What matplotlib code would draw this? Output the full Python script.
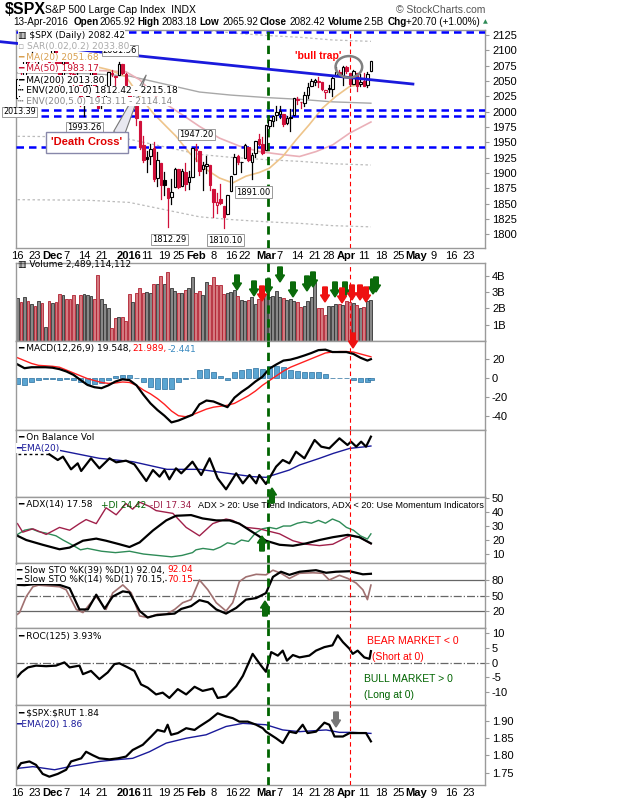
import numpy as np
import matplotlib
matplotlib.use('Agg')
import matplotlib.pyplot as plt
from matplotlib.patches import Rectangle, Polygon, Ellipse

plt.rcParams['axes.unicode_minus'] = False
plt.rcParams['text.parse_math'] = False

# ---------------- DATA ----------------
# trading-day index 0 = 16-Nov-2015 ... 101 = 13-Apr-2016
opens = [2022.1,2053.7,2051.0,2083.7,2082.8,2089.4,2084.4,2089.3,2088.8,2090.9,2082.9,2101.7,2080.7,2051.2,2090.4,2073.4,2061.2,2047.9,2047.3,2013.4,
         2025.6,2046.5,2073.8,2040.8,2010.3,2023.2,2042.2,2063.5,2057.8,2060.5,2077.3,2060.6,2038.2,2013.8,2011.7,1985.3,1945.9,1926.1,1927.8,1940.3,
         1891.7,1916.7,1888.7,1876.2,1861.5,1877.4,1906.3,1878.8,1902.5,1885.2,1894.0,1936.9,1935.3,1907.1,1911.7,1913.1,1873.3,1848.5,1857.1,1847.0,
         1833.4,1871.4,1898.8,1927.6,1917.8,1924.4,1942.8,1917.6,1931.9,1954.9,1947.1,1937.1,1976.6,1985.6,1994.0,1996.1,1996.9,1981.4,1991.0,1994.7,
         2019.3,2015.3,2014.2,2026.9,2041.2,2048.6,2048.6,2048.6,2032.5,2037.9,2036.9,2058.3,2063.8,2056.6,2073.2,2062.5,2045.6,2063.0,2045.5,2050.2,
         2043.7,2065.9]
highs = [2053.2,2066.7,2084.0,2086.7,2097.1,2095.6,2094.1,2093.0,2093.3,2093.8,2103.4,2104.3,2085.0,2093.8,2090.4,2073.8,2080.3,2067.7,2047.3,2022.9,
         2053.9,2076.7,2076.4,2040.8,2022.9,2042.7,2064.7,2067.4,2057.8,2081.6,2077.3,2062.5,2038.2,2021.9,2011.7,1985.3,1960.4,1935.7,1947.4,1950.3,
         1934.5,1916.7,1901.4,1876.2,1889.9,1908.9,1906.3,1906.3,1916.9,1902.9,1940.2,1947.2,1935.3,1918.0,1927.4,1913.1,1873.3,1868.3,1881.6,1847.0,
         1864.8,1895.8,1930.7,1930.0,1918.8,1946.7,1942.8,1932.1,1951.8,1962.9,1958.3,1978.4,1986.5,1993.7,2009.1,2008.8,1996.9,1992.7,2005.1,2022.4,
         2024.6,2015.9,2032.0,2046.2,2052.4,2053.9,2056.6,2048.6,2036.0,2042.7,2056.0,2072.2,2067.9,2075.1,2074.0,2062.5,2067.3,2063.0,2060.6,2062.9,
         2065.1,2083.2]
lows = [2019.4,2045.9,2051.0,2078.8,2082.5,2081.4,2070.3,2086.3,2084.1,2080.4,2082.9,2077.1,2042.4,2051.2,2066.8,2052.3,2036.5,2045.2,2008.8,1993.3,
        2025.6,2042.4,2041.7,2005.3,2005.9,2020.5,2042.2,2058.7,2044.2,2060.5,2061.9,2043.6,1989.7,2004.2,1979.1,1938.8,1918.5,1901.1,1914.4,1886.3,
        1878.9,1857.8,1864.6,1812.3,1848.9,1877.4,1875.9,1878.8,1872.7,1873.6,1894.0,1920.0,1897.3,1872.6,1900.5,1872.7,1828.5,1834.9,1850.3,1810.1,
        1833.4,1871.4,1898.8,1915.1,1902.2,1924.4,1919.4,1891.0,1925.4,1945.8,1931.8,1937.1,1973.0,1977.4,1986.8,1989.3,1977.4,1979.8,1969.2,1994.7,
        2012.2,2005.2,2010.0,2022.2,2041.2,2043.1,2040.6,2034.9,2022.5,2031.9,2026.3,2058.3,2057.5,2044.0,2062.6,2042.6,2045.6,2033.8,2041.7,2041.9,
        2039.7,2065.9]
closes = [2053.2,2050.4,2083.6,2081.2,2089.2,2086.6,2089.1,2088.9,2090.1,2080.4,2102.6,2079.5,2049.6,2091.7,2077.1,2063.6,2047.6,2052.2,2012.4,2021.9,
          2043.4,2073.1,2041.9,2005.6,2021.2,2039.0,2064.3,2061.0,2056.5,2078.4,2063.4,2043.9,2012.7,2016.7,1990.3,1943.1,1922.0,1923.7,1938.7,1890.3,
          1921.8,1880.3,1881.3,1859.3,1869.0,1906.9,1877.1,1903.6,1882.9,1893.4,1940.2,1939.4,1903.0,1912.5,1915.5,1880.1,1853.4,1852.2,1851.9,1829.1,
          1864.8,1895.6,1926.8,1917.8,1917.8,1945.5,1921.3,1929.8,1951.7,1948.1,1932.2,1978.4,1986.5,1993.4,2000.0,2001.8,1979.3,1989.3,1989.6,2022.2,
          2019.6,2015.9,2027.2,2040.6,2049.6,2051.6,2049.8,2036.7,2035.9,2037.1,2055.0,2064.0,2059.7,2072.8,2066.1,2045.2,2066.7,2041.9,2047.6,2042.0,
          2061.7,2082.4]
volume_b = [2.65,2.40,2.72,2.45,2.30,2.18,2.45,2.34,0.85,2.47,2.34,2.40,2.86,2.80,2.55,2.58,2.80,2.28,2.80,2.90,2.84,2.76,2.55,4.05,2.55,2.25,2.02,0.80,
            1.40,1.45,1.50,1.25,
            2.90,2.38,2.92,3.27,2.92,3.00,2.96,3.50,3.48,4.00,3.50,4.25,3.25,3.08,2.92,2.96,3.12,3.27,3.90,2.92,3.06,2.82,3.60,3.43,3.90,3.43,3.43,2.88,
            2.92,3.02,3.12,2.78,2.51,2.47,2.51,2.68,2.29,2.55,2.66,2.86,2.70,2.76,3.07,2.68,2.62,2.51,2.55,2.45,2.38,2.07,2.14,2.47,2.72,3.60,2.00,2.02,
            1.62,2.18,2.18,2.27,2.27,2.20,2.48,2.38,2.34,2.24,2.00,2.10,2.45,2.49]

ma20_day = [18.7,23.4,26.3,31,34.9,38.7,42.5,45.3,49.1,53.9,57.7,61.5,65.3,69.1,72,75.8,79.6,83.4,87.2,91,94.9,97.7,101]
ma20_val = [2071,2072,2068,2057,2025,1998,1976,1960,1933,1906,1892,1884,1895,1901,1908,1927,1954,1979,2006,2025,2041,2044,2051.7]
ma50_day = [20.6,23.4,31,34.9,40.6,46.3,52,57.7,63.4,69.1,75.8,80.6,85.3,90.1,94.9,101]
ma50_val = [2068,2067,2065,2052,2019,1998,1976,1957,1944,1935,1930,1927,1935,1946,1965,1983.2]
ma200_day = [0,20,32,42,52,61,71,81,90,101]
ma200_val = [2063,2062,2058,2045,2032,2027,2023,2020,2016,2013.8]

macd_day = [0,2,4,6,8,10,12,14,16,18,20,22,24,26,28,30,32,34,36,38,40,42,44,46,48,50,52,54,56,58,60,62,64,66,68,70,72,74,76,78,80,82,84,86,88,90,92,94,96,98,100,101]
macd_val = [14,10,11,11,11,10.5,9,6.5,3,-2.4,-7.6,-10,-11,-8,-4,-1.7,-2.5,-8,-18,-27,-34,-40,-47,-45,-42,-39,-28,-24,-25,-28,-31,-21,-15,-10,-4,1,9.6,14,18,19,21,23.4,26,29,29.5,27,27,27,25,21,18,19.5]
signal_val = [21,18,15,13,12.5,12,11,8,5,2,-1,-3,-5,-6,-5.5,-4.5,-5,-8,-13,-17,-22,-28,-35,-40,-41,-39,-36,-33,-31,-30,-29,-27,-23,-19,-14,-8,-3,2,7,11,14,17,20,23,26,27,27.5,27.5,27,25,23,22]

obv_day = [9.1,11.5,13,15.3,17.2,18.2,21,23.4,26.3,28.2,31,33.4,36.8,38.7,40.6,42,43.4,45.3,46.8,48.2,50,52.5,54.9,57.2,59.6,62.5,64.4,66.3,68.2,69.1,71,
           73.9,75.8,77.7,79.6,82,84.9,86.8,89.1,92,94.3,95.3,96.8,98.2,99.6,101]
obv_val = [147,130,140,102,120,97,135,105,135,123,128,117,67,100,80,100,72,105,90,105,125,85,135,75,42,90,60,85,60,85,58,
           110,130,120,155,135,190,170,165,195,175,185,170,185,170,200]
obvema_day = [11.5,23.4,32.9,42.7,52,56.8,61.5,67.2,71,77.7,80.6,86.3,90.3,95,99.6,101]
obvema_val = [160,135,125,102,102,95,88,80,78,100,115,135,150,165,170,172]

adx_day = [0,2.5,7.2,12,14.9,18.7,22.5,25.3,29.1,32,34.9,38.7,42.5,45.3,49.6,52.9,56.8,60.6,63.4,67.2,71,74.9,78.7,82.5,86.3,90.1,94.4,97.7,101]
adx_val = [23,20,16.6,13.4,14.6,19.5,21,19.5,17,15,18.3,26.8,34,37.3,37.8,35.4,34,34,31.7,25.6,19.5,16.6,15.9,17.6,20,22,23.7,22,17.6]
pdi_day = [0,2,4,6,8,11,13,16,18,20,24,28,32,36,40,44,47,50,51,53,56,58,60,62,64,66,68,70,72,74,76,78,80,82,84,86,88,90,92,94,96,98,100,101]
pdi_val = [24,27,28,26,25,23,20,16,13,14,12,11,12,10,9,8,9,11,13,14,13,15,18,17,20,19,25,28,29,28,30,30,32,33,32,34,32,35,33,29,27,23,20.7,24.4]
mdi_day = [0,1.5,4.4,8.2,12,14.9,17.7,19.6,22.5,25.3,28.2,31,32.9,34.9,37.7,39.6,44.4,48.2,52,55.8,59.6,61.5,65.3,69.1,71,74.9,78.7,82.5,86.3,90.1,94.9,97.7,101]
mdi_val = [31.7,25.6,28,24,29,27,31.7,34.6,31.7,43,38,46,42,47,44,41,39,29,23,31.7,35,34,29,28,26.8,24.4,19.5,17,16,17,23,22,17.3]

sto39_day = [0,2,5,8,12,14.9,17.7,20.1,22.5,24.9,27.2,30.1,32,34.9,37.2,39.6,42.5,44.9,46.8,49.6,52,54.4,56.8,59.6,62.5,65.3,68.2,71,73,75.3,77.7,80.6,85.3,88.2,91,94.9,98.7,101]
sto39_val = [70.5,70,72,72,70.5,64,23,23,51.6,24.4,48,58,56,20,7.4,11.8,13.7,15,24,29.5,41,37,23,15,26,42,45,54.7,86,96,90,96,99,94,96,97,91,92.04]
sto14_day = [0,0.6,2.5,4.4,6,12,13.9,16.8,18.7,20.6,22.5,25.3,27.2,30.1,32.5,34.9,37.2,40,42.5,44.9,47.2,49.6,52,54.4,56.8,59.6,61.5,63.4,65.3,68.2,71,73,75.3,77.7,80.6,84.4,87.2,89.1,92,94.4,96.8,98.7,100,101]
sto14_val = [13.7,17,48,67,70,67,61,23,17,33,48,23,55,70.5,55,10.5,7.4,13.7,13.7,23,36,42,80,61,36,20,36,77,86,91,90,99,93,83,93,94,93,80,89,83,74,61,42,70.15]

roc_day = [0,1.1,3,5.3,8.2,11,13.4,14.9,17.7,18.7,21,23.4,25.8,27.7,29.1,31.5,33.4,35.3,37.2,39.6,41.5,43.4,45.8,48.2,50.6,52.9,55.8,57.2,59.6,62.5,64.4,67.2,69.6,71,72.5,74.4,75.8,77,78.7,80.6,83.4,85.3,87.7,90,91.5,93,94.9,95.8,97.2,99.1,100.6,101]
roc_val = [-4.8,-3.3,-1.6,-1,-1.2,-1,0.1,-1.6,-1,-3.9,-2.8,-5.6,-3.3,-0.5,-0.2,-1.6,-2.8,-7.4,-8.5,-10.8,-10.2,-12,-9,-10.8,-8.2,-9.6,-8.8,-12,-11.5,-8,-4.5,3,-1,-3.1,3.6,2.4,4.1,0.7,2.6,1.8,2.4,4.1,5.3,5.9,9.3,7,4.7,3,4.1,1.8,1.3,3.93]

ratio_day = [0,1,3.4,5.3,7.2,9.1,11.5,13.9,15.3,18.2,19.6,21.5,23.4,26.3,28.7,31,32.9,35.8,38.2,40,42,42.9,43.9,45.8,48.2,50.6,52,54.9,57.2,59.6,61.5,63.4,65.8,68.2,70.1,71,73.9,75.8,77.7,79.6,81.5,82.9,85.3,87.7,89.1,90.6,93,94.9,97.2,99.6,101]
ratio_val = [1.762,1.777,1.782,1.772,1.746,1.738,1.746,1.758,1.782,1.791,1.810,1.800,1.791,1.788,1.791,1.796,1.815,1.830,1.854,1.873,1.868,1.888,1.859,1.864,1.878,1.873,1.883,1.902,1.921,1.912,1.907,1.897,1.897,1.888,1.878,1.868,1.849,1.835,1.868,1.864,1.888,1.864,1.868,1.894,1.888,1.854,1.854,1.864,1.864,1.864,1.84]
rema_day = [0,4.4,10.6,15.8,23.4,28.2,32.9,37.7,42.5,48.2,53.9,59.6,64.4,71,75.8,80.6,88.2,92,95.8,101]
rema_val = [1.762,1.767,1.758,1.769,1.782,1.787,1.791,1.810,1.835,1.849,1.859,1.883,1.892,1.888,1.873,1.868,1.873,1.866,1.866,1.863]

tick_days = [0,5,10,14,19,24,32,37,42,46,51,56,61,65,71,75,80,85,89,94,99,104,109,114,119,124,129]
tick_labels = ['16','23','Dec','7','14','21','2016','11','19','25','Feb','8','16','22','Mar','7','14','21','28','Apr','11','18','25','May','9','16','23']
price_ticks = [1800,1825,1850,1875,1900,1925,1950,1975,2000,2025,2050,2075,2100,2125]
price_levels = [2130,2003,1993,1942]
trend_day = [-5,113]
trend_val = [2114,2045]
peak_labels = [(29.3,2100,'2081.56'),(19.1,1974,'1993.26'),(51.2,1963,'1947.20'),(67.4,1869,'1891.00'),(43.4,1792,'1812.29'),(59.4,1791,'1810.10')]

# ---------------- LAYOUT ----------------
W, H = 620, 800
fig = plt.figure(figsize=(6.2, 8), dpi=100)
fig.patch.set_facecolor('white')
XL = (-0.43, 133.6)
GREEN_X = 71.7
RED_X = 94.9
TF = 'Liberation Sans'
LS = 6.5

def mk(top, bot, ylim):
    ax = fig.add_axes([16/W, 1-bot/H, 469/W, (bot-top)/H])
    ax.set_xlim(*XL); ax.set_ylim(*ylim)
    for s in ax.spines.values():
        s.set_color('#9a9a9a'); s.set_linewidth(1)
    ax.yaxis.tick_right()
    ax.tick_params(axis='y', labelsize=8, length=3, color='#9a9a9a', pad=2)
    ax.tick_params(axis='x', length=0, labelbottom=False)
    ax.set_xticks(tick_days)
    ax.axvline(GREEN_X, color='#006400', lw=2, ls=(0, (3, 2)), zorder=5)
    ax.axvline(RED_X, color='#ff0000', lw=0.8, ls=(0, (4, 3)), zorder=5)
    return ax

def yfont(ax):
    for t in ax.get_yticklabels():
        t.set_fontfamily(TF); t.set_fontsize(8)

def xlabels(ax):
    ax.tick_params(axis='x', labelbottom=True, pad=2)
    ax.set_xticklabels(tick_labels)
    for t in ax.get_xticklabels():
        t.set_fontfamily(TF); t.set_fontsize(8)
        if not t.get_text().isdigit() or t.get_text() == '2016':
            t.set_fontweight('bold')

def ftxt(x, y, s, color='black', size=LS, **kw):
    fig.text(x/W, 1-y/H, s, color=color, fontsize=size, va='center', ha=kw.pop('ha', 'left'), **kw)

def arrow(x, y_tip, up, color, w=9, h=15):
    s = -1 if up else 1
    pts = [(x, y_tip), (x-w/2, y_tip-s*7), (x-2.3, y_tip-s*7), (x-2.3, y_tip-s*h),
           (x+2.3, y_tip-s*h), (x+2.3, y_tip-s*7), (x+w/2, y_tip-s*7)]
    pts = [(a/W, 1-b/H) for a, b in pts]
    fig.add_artist(Polygon(pts, closed=True, transform=fig.transFigure, facecolor=color, edgecolor=color, zorder=20))

# header
fig.text(5/W, 1-10/H, '$SPX', fontsize=11.5, fontweight='bold', va='center', family=TF)
fig.text(45/W, 1-10/H, 'S&P 500 Large Cap Index  INDX', fontsize=7.5, va='center', family=TF)
fig.text(485/W, 1-10/H, '© StockCharts.com', fontsize=7.5, va='center', ha='right', color='#555555', family=TF)
for x, s, b in [(13,'13-Apr-2016',False),(74,'Open',True),(99,'2065.92',False),(137,'High',True),(161,'2083.18',False),
                (199,'Low',True),(222,'2065.92',False),(260,'Close',True),(289,'2082.42',False),(328,'Volume',True),
                (363,'2.5B',False),(388,'Chg',True),(406,'+20.70 (+1.00%)',False)]:
    fig.text(x/W, 1-22/H, s, fontsize=7.1, fontweight='bold' if b else 'normal', va='center', family=TF)
fig.text(483/W, 1-22/H, '▲', fontsize=4.5, color='#2e8b57', va='center')

# ---------------- PRICE ----------------
ax = mk(30, 248, (1778, 2133))
ax.set_yticks(price_ticks); yfont(ax)
xlabels(ax)
days = np.arange(len(closes))
for lv in price_levels:
    ax.axhline(lv, color='#0000ff', lw=1.8, ls=(0, (3, 2)), zorder=3)
env_u5 = [v*1.05 for v in ma200_val]; env_l5 = [v*0.95 for v in ma200_val]; env_l10 = [v*0.90 for v in ma200_val]
ax.plot(ma200_day, env_u5, color='#bbbbbb', lw=0.9, ls=(0, (2, 2)))
ax.plot(ma200_day, env_l5, color='#bbbbbb', lw=0.9, ls=(0, (2, 2)))
ax.plot(ma200_day, env_l10, color='#bbbbbb', lw=0.9, ls=(0, (2, 2)))
ax.plot(ma200_day, ma200_val, color='#a8a8a8', lw=1)
ax.plot(ma50_day, ma50_val, color='#eab0b8', lw=1.2)
ax.plot(ma20_day, ma20_val, color='#eec48a', lw=1.2)
for i in days:
    o, h_, l, c = opens[i], highs[i], lows[i], closes[i]
    up = i == 0 or c >= closes[i-1]
    col = 'black' if up else '#d0103a'
    ax.plot([i, i], [l, h_], color=col, lw=0.9, zorder=6)
    bottom, top = min(o, c), max(o, c)
    ax.add_patch(Rectangle((i-0.35, bottom), 0.7, max(top-bottom, 0.8),
                           facecolor='white' if c >= o else col, edgecolor=col, lw=0.8, zorder=7))
ax.plot(trend_day, trend_val, color='#1a1adc', lw=2, zorder=8, clip_on=False)
ax.add_patch(Ellipse((94.7, 2073), 7.6, 35, fill=False, edgecolor='#808080', lw=1.8, zorder=9))
ax.text(85.8, 2091, "'bull trap'", color='red', fontsize=7.5, fontweight='bold', ha='center', va='center', family=TF)
for d, v, s in peak_labels:
    ax.text(d, v, s, fontsize=6, ha='center', va='center', zorder=10,
            bbox=dict(boxstyle='square,pad=0.15', fc='white', ec='#999999', lw=0.7))
ax.add_patch(Polygon([(27.5, 1968), (36.8, 2060), (30.1, 1955)], closed=True, facecolor='#e8e8f0', edgecolor='#777777', lw=0.8, zorder=10))
ax.text(19.8, 1950, "'Death Cross'", color='#e00000', fontsize=8, fontweight='bold', ha='center', va='center', zorder=11, family=TF,
        bbox=dict(boxstyle='square,pad=0.5', fc='white', ec='#8888aa', lw=1))
fig.text(3/W, 1-112/H, '2013.39', fontsize=5.8, ha='left', va='center', zorder=12,
         bbox=dict(boxstyle='square,pad=0.1', fc='white', ec='#999999', lw=0.7))
leg = [('▥ $SPX (Daily) 2082.42', 'black', 35), ('▫ SAR(0.02,0.2) 2033.80', '#aaaaaa', 46), ('━ MA(20) 2051.68', '#d9a050', 57.5),
       ('━ MA(50) 1983.17', '#c8102e', 68.5), ('━ MA(200) 2013.80', 'black', 80), ('┅ ENV(200,10.0) 1812.42 - 2215.18', 'black', 91),
       ('┅ ENV(200,5.0) 1913.11 - 2114.14', '#888888', 101.5)]
for s, c, y in leg:
    fig.text(18/W, 1-y/H, s, color=c, fontsize=LS, va='center', zorder=15,
             bbox=dict(boxstyle='square,pad=0.05', fc='white', ec='none'))

# ---------------- VOLUME ----------------
axv = mk(263, 341, (0, 4.79))
axv.set_yticks([1, 2, 3, 4]); axv.set_yticklabels(['1B', '2B', '3B', '4B']); yfont(axv)
for i in days:
    down = i > 0 and closes[i] < closes[i-1]
    axv.bar(i, volume_b[i], width=0.85, color='#d47a80' if down else '#888888',
            edgecolor='#b02030' if down else '#333333', lw=0.6)
ftxt(18, 265, '▥ Volume 2,489,114,112')
for x, y in [(237,290),(254,296),(268,294),(280,282),(293,297),(307,291),(313,287),(335,297),(345,297),(373,294),(376,292)]:
    arrow(x, y, False, '#0a6a0a')
for x, y in [(262,301),(325,302),(342,303),(352,300),(360,300),(366,302),(353,348)]:
    arrow(x, y, False, '#ee1111')

# ---------------- MACD ----------------
axm = mk(341, 430, (-55, 38.6))
axm.set_yticks([-40, -20, 0, 20]); yfont(axm)
hist = [m - s for m, s in zip(macd_val, signal_val)]
axm.bar(macd_day, hist, width=1.6, color='#5aa5d2', edgecolor='#2a6e9e', lw=0.5)
axm.plot(macd_day, signal_val, color='#ff2020', lw=1)
axm.plot(macd_day, macd_val, color='black', lw=1.6)
ftxt(18, 349, '━ MACD(12,26,9) 19.548,')
ftxt(132, 349, '21.989,', color='red')
ftxt(168, 349, '-2.441', color='#3a8ac0')

# ---------------- OBV ----------------
axo = mk(430, 497, (19, 220))
axo.set_yticks([])
axo.plot([0, 9.1], [147, 147], color='black', lw=1, ls=(0, (2, 2)))
axo.plot(obvema_day, obvema_val, color='#1a1a9a', lw=1)
axo.plot(obv_day, obv_val, color='black', lw=1.6)
ftxt(18, 437, '━ On Balance Vol')
ftxt(16, 448, '━EMA(20)', color='#1a1a9a', bbox=dict(boxstyle='square,pad=0.05', fc='white', ec='none'))
arrow(272, 488, True, '#0a6a0a')

# ---------------- ADX ----------------
axa = mk(497, 563, (3.6, 50.7))
axa.set_yticks([10, 20, 30, 40, 50]); yfont(axa)
axa.plot(pdi_day, pdi_val, color='#2e8b57', lw=1)
axa.plot(mdi_day, mdi_val, color='#a0204a', lw=1)
axa.plot(adx_day, adx_val, color='black', lw=1.6)
ftxt(18, 505, '━ ADX(14) 17.58')
ftxt(101, 505, '+DI 24.42', color='#006400')
ftxt(150, 505, '-DI 17.34', color='#a0204a')
ftxt(198, 505, 'ADX > 20: Use Trend Indicators, ADX < 20: Use Momentum Indicators', size=6.6, family=TF)
arrow(262, 536, True, '#0a6a0a')

# ---------------- STO ----------------
axs = mk(563, 628, (-12.9, 112.9))
axs.set_yticks([20, 50, 80]); yfont(axs)
axs.axhline(80, color='#666666', lw=0.9); axs.axhline(20, color='#666666', lw=0.9)
axs.axhline(50, color='#666666', lw=0.9, ls='-.')
axs.plot(sto14_day, sto14_val, color='#a07070', lw=1.2)
axs.plot(sto39_day, sto39_val, color='black', lw=1.6)
for y, a, b, xb in [(570, '━ Slow STO %K(39) %D(1) 92.04,', '92.04', 167), (579.5, '━ Slow STO %K(14) %D(1) 70.15,', '70.15', 167)]:
    ftxt(16, y, a, bbox=dict(boxstyle='square,pad=0.05', fc='white', ec='none'))
    ftxt(xb, y, b, color='red', bbox=dict(boxstyle='square,pad=0.05', fc='white', ec='none'))
arrow(265, 601, True, '#0a6a0a')

# ---------------- ROC ----------------
axr = mk(628, 705, (-14.4, 11.8))
axr.set_yticks([-10, -5, 0, 5, 10]); yfont(axr)
axr.axhline(0, color='#666666', lw=0.9, ls='-.')
axr.plot(roc_day, roc_val, color='black', lw=1.6)
ftxt(18, 636, '━ ROC(125) 3.93%')
ftxt(367, 641, 'BEAR MARKET < 0', color='red', size=7.5, family=TF)
ftxt(372, 657, '(Short at 0)', color='red', size=7.5, family=TF)
ftxt(364, 679, 'BULL MARKET > 0', color='#006400', size=7.5, family=TF)
ftxt(364, 695, '(Long at 0)', color='#006400', size=7.5, family=TF)

# ---------------- SPX:RUT ----------------
axq = mk(705, 785, (1.714, 1.945))
axq.set_yticks([1.75, 1.80, 1.85, 1.90])
axq.set_yticklabels(['1.75', '1.80', '1.85', '1.90']); yfont(axq)
axq.plot(rema_day, rema_val, color='#1a1a9a', lw=1)
axq.plot(ratio_day, ratio_val, color='black', lw=1.6)
xlabels(axq)
ftxt(18, 713, '━ $SPX:$RUT 1.84')
ftxt(16, 724, '━EMA(20) 1.86', color='#1a1a9a')
arrow(336, 727, False, '#777777')

fig.savefig('out.png', dpi=100)
